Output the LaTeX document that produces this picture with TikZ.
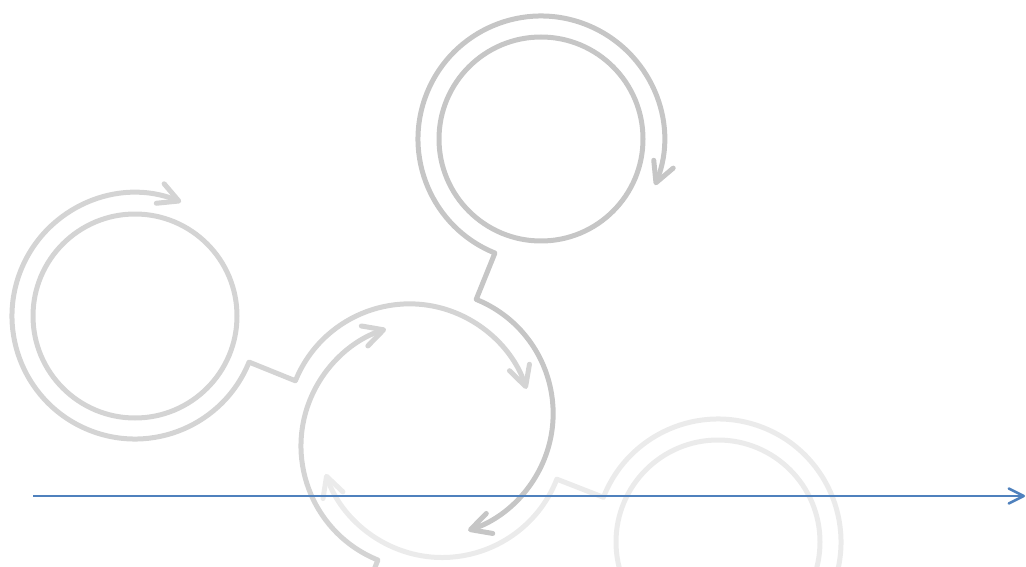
\documentclass[tikz,border=0pt]{standalone}
\usetikzlibrary{arrows.meta,calc}
\definecolor{gA}{HTML}{D4D4D4}
\definecolor{gB}{HTML}{C6C6C6}
\definecolor{gD}{HTML}{EBEBEB}
\definecolor{axisblue}{HTML}{4F81BD}
\begin{document}
\begin{tikzpicture}[x=1pt,y=-1pt,
  ring/.style={line width=5pt, line cap=round, line join=round},
  gtip/.style={-{Straight Barb[length=20pt,width=21pt,round]}},
  gtips/.style={{Straight Barb[length=20pt,width=21pt,round]}-{Straight Barb[length=20pt,width=21pt,round]}}]
\useasboundingbox (0,0) rectangle (1026,567);
\clip (0,0) rectangle (1026,567);
% centres
\coordinate (L) at (135,316);
\coordinate (T) at (541,139);
\coordinate (R) at (718,542);
\coordinate (C) at (424,446);
\coordinate (A) at ($(L)+(22:296)$);
\coordinate (B) at ($(T)+(112:296)$);
\coordinate (D) at ($(R)+(201.3:296)$);
\coordinate (X) at ($(C)+(112:296)$);
% bottom-right unit
\draw[ring, gD] (R) circle[radius=102];
\draw[ring, gD, gtips] ($(R)+(111.3:123)$) arc[start angle=471.3, end angle=201.3, radius=123]
   -- ($(D)+(21.3:123)$) arc[start angle=21.3, end angle=161.3, radius=123];
% unit below the picture
\draw[ring, gA, gtip] ($(X)+(292:123)$) -- ($(C)+(112:123)$) arc[start angle=112, end angle=252, radius=123];
% left unit
\draw[ring, gA] (L) circle[radius=102];
\draw[ring, gA, gtips] ($(L)+(292:123)$) arc[start angle=292, end angle=22, radius=123]
   -- ($(A)+(202:123)$) arc[start angle=202, end angle=342, radius=123];
% top unit
\draw[ring, gB] (T) circle[radius=102];
\draw[ring, gB, gtips] ($(T)+(22:123)$) arc[start angle=382, end angle=112, radius=123]
   -- ($(B)+(292:123)$) arc[start angle=292, end angle=432, radius=123];
% axis
\coordinate (s) at (33,496);
\coordinate (e) at (1025,496);
\draw[line width=2.5pt, axisblue, -{Straight Barb[length=15pt,width=15pt,round]}] (s) -- (e);
\end{tikzpicture}
\end{document}
